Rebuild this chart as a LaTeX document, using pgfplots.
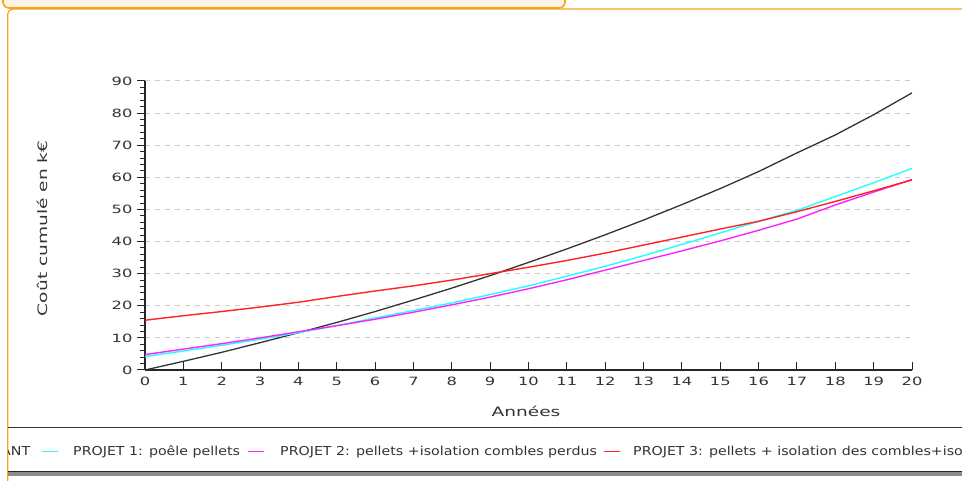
\documentclass[border=0pt]{standalone}
\usepackage{pgfplots}
\pgfplotsset{compat=1.18}
\usepackage{pgfplotstable}
\usepackage{fontspec}
\setmainfont{DejaVu Sans}
\newfontfamily\tickfont[FakeStretch=1.43]{DejaVu Sans}
\newfontfamily\legfont[FakeStretch=1.155]{DejaVu Sans}

\definecolor{txt}{HTML}{333333}
\definecolor{orng}{HTML}{F5A31A}
\definecolor{cream}{HTML}{FDF4E6}
\definecolor{cexist}{HTML}{333333}
\definecolor{cpa}{HTML}{22FFFF}
\definecolor{cpb}{HTML}{FF22FF}
\definecolor{cpc}{HTML}{FF2222}

% cumulated cost (kEUR) per year
\pgfplotstableread{
year existant p1   p2   p3
0    0.0      4.2  4.8  15.5
1    2.7      5.9  6.5  16.9
2    5.5      7.7  8.2  18.2
3    8.5      9.6  10.0 19.6
4    11.6     11.6 11.9 21.1
5    14.8     13.8 13.8 22.9
6    18.2     16.2 15.8 24.6
7    21.8     18.5 18.0 26.2
8    25.5     20.9 20.3 28.0
9    29.4     23.5 22.7 30.0
10   33.5     26.2 25.3 32.0
11   37.7     29.2 28.1 34.1
12   42.1     32.3 31.1 36.4
13   46.7     35.6 34.1 38.9
14   51.5     39.1 37.1 41.4
15   56.5     42.7 40.2 43.9
16   61.8     46.3 43.5 46.3
17   67.6     49.7 47.0 49.3
18   73.2     54.0 51.4 52.5
19   79.5     58.3 55.4 55.8
20   86.3     62.8 59.3 59.2
}\couts

\begin{document}
\begin{tikzpicture}[x=1pt,y=1pt]
\begin{scope}
\clip (0,0) rectangle (962,481);
% page frame
\draw[orng, line width=1.2pt, rounded corners=5pt] (7.7,472) rectangle (990,-20);
\draw[orng, line width=1.6pt, fill=cream, rounded corners=6pt] (3,495) rectangle (565,473);
% legend band
\draw[black!80, line width=1.2pt] (8.3,53.5) -- (962,53.5);
\fill[black!45] (8.3,4.5) rectangle (962,9);
\draw[black!85, line width=1.5pt] (8.3,9.5) -- (962,9.5);
\end{scope}

\begin{axis}[
  at={(145pt,111pt)}, anchor=south west,
  scale only axis, width=767pt, height=289pt,
  xmin=0, xmax=20, ymin=0, ymax=90,
  xtick={0,1,...,20}, ytick={0,10,...,90},
  minor y tick num=4,
  axis lines=left,
  axis line style={-, line width=1.3pt, color=black!85},
  xtick align=inside, ytick align=outside,
  major tick length=8pt, minor tick length=5pt,
  tick style={line width=1pt, color=black!85},
  ymajorgrids,
  major grid style={gray!40, dash pattern=on 5pt off 5pt, line width=1pt},
  /pgf/number format/assume math mode=true,
  tick label style={font=\tickfont\fontsize{11.4}{12}\selectfont, text=txt},
  xticklabel style={yshift=-4pt},
  yticklabel style={xshift=-1pt},
  xlabel={Années}, ylabel={Coût cumulé en k€},
  label style={font=\tickfont\fontsize{13}{14}\selectfont, text=txt},
  xlabel style={at={(axis description cs:0.4967,-0.1419)}, anchor=center},
  ylabel style={at={(axis description cs:-0.1343,0.49)}, anchor=center},
]
\addplot[cexist, line width=1.3pt] table[x=year, y=existant]{\couts};
\addplot[cpa, line width=1.4pt] table[x=year, y=p1]{\couts};
\addplot[cpb, line width=1.4pt] table[x=year, y=p2]{\couts};
\addplot[cpc, line width=1.4pt] table[x=year, y=p3]{\couts};
\end{axis}

% legend strip below the chart (scrolled: starts and ends outside the panel)
\begin{scope}
\clip (8.4,0) rectangle (962,481);
\begin{scope}[every node/.style={anchor=base west, inner sep=0pt, text=txt,
    font=\legfont\fontsize{12.3}{14}\selectfont}]
\draw[cexist, line width=1.8pt] (-60,29.5) -- (-44,29.5);
\node at (-38.5,25) {EXISTANT};
\draw[cpa, line width=1.8pt] (42,29.5) -- (58,29.5);
\node at (73,25) {PROJET 1: poêle pellets};
\draw[cpb, line width=1.8pt] (248,29.5) -- (264,29.5);
\node at (280,25) {PROJET 2: pellets +isolation combles perdus};
\draw[cpc, line width=1.8pt] (604,29.5) -- (620,29.5);
\node at (633,25) {PROJET 3: pellets + isolation des combles+isolation des murs};
\end{scope}
\end{scope}
\pgfresetboundingbox
\useasboundingbox (0,0) rectangle (962,481);
\end{tikzpicture}
\end{document}
